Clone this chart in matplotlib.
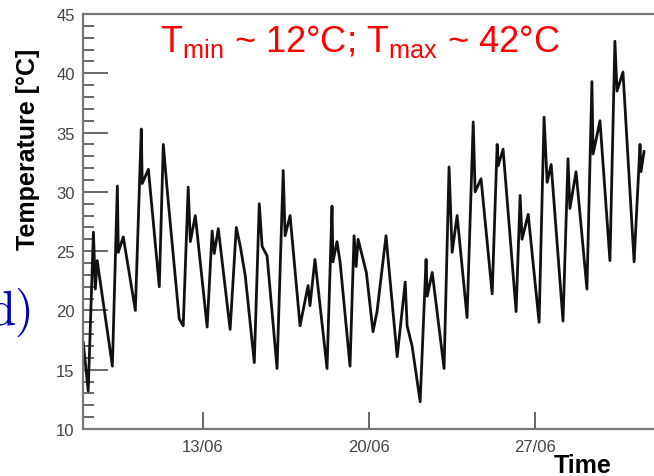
import numpy as np
import matplotlib
matplotlib.use("Agg")
from matplotlib import pyplot as plt
from matplotlib.ticker import MultipleLocator, FixedLocator

plt.rcParams['font.family'] = ['Liberation Sans', 'DejaVu Sans']
plt.rcParams['mathtext.fontset'] = 'custom'
plt.rcParams['mathtext.rm'] = 'Liberation Sans'
plt.rcParams['mathtext.it'] = 'Liberation Sans:italic'

# time in days of June (8.0 = 08/06 00:00), temperature in degC
day = [7.95, 8.16, 8.38, 8.46, 8.54, 9.18, 9.39, 9.43, 9.64, 10.15,
       10.40, 10.44, 10.70, 11.16, 11.33, 11.50, 12.00, 12.17, 12.38, 12.47,
       12.68, 13.18, 13.39, 13.48, 13.65, 14.15, 14.41, 14.58, 14.79, 15.17,
       15.38, 15.50, 15.71, 16.13, 16.39, 16.47, 16.68, 17.10, 17.44, 17.52,
       17.73, 18.24, 18.45, 18.49, 18.66, 18.79, 19.21, 19.38, 19.47, 19.55,
       19.90, 20.18, 20.35, 20.73, 20.82, 21.20, 21.54, 21.62, 21.83, 22.17,
       22.42, 22.47, 22.68, 23.18, 23.39, 23.52, 23.73, 24.15, 24.41, 24.49,
       24.74, 25.21, 25.42, 25.46, 25.67, 26.22, 26.39, 26.47, 26.73, 27.19,
       27.40, 27.53, 27.70, 28.20, 28.41, 28.49, 28.75, 29.21, 29.42, 29.47,
       29.76, 30.18, 30.39, 30.48, 30.73, 31.20, 31.45, 31.49, 31.62]
temp = [17.3, 13.2, 26.6, 21.8, 24.2, 15.3, 30.5, 24.9, 26.2, 20.0,
        35.3, 30.7, 31.9, 22.0, 34.0, 30.0, 19.3, 18.7, 30.4, 25.8,
        28.0, 18.6, 26.7, 24.8, 26.9, 18.4, 27.0, 25.4, 22.9, 15.6,
        29.0, 25.4, 24.6, 15.1, 31.8, 26.3, 28.0, 18.7, 22.1, 20.4,
        24.3, 15.1, 28.8, 24.1, 25.8, 24.1, 15.3, 26.3, 23.7, 26.0,
        23.2, 18.2, 19.9, 26.3, 24.3, 16.1, 22.4, 18.7, 17.0, 12.3,
        24.3, 21.2, 23.2, 15.1, 32.1, 24.9, 28.0, 19.4, 35.9, 30.0,
        31.1, 21.4, 34.0, 32.2, 33.6, 19.9, 29.7, 26.0, 28.1, 19.0,
        36.3, 30.8, 32.3, 19.1, 32.8, 28.6, 31.7, 21.8, 39.3, 33.2,
        36.0, 24.2, 42.7, 38.5, 40.1, 24.1, 34.0, 31.7, 33.4]

tick_days = [13, 20, 27]
tick_labels = ['13/06', '20/06', '27/06']

fig = plt.figure(figsize=(6.54, 4.77), dpi=100)
ax = fig.add_axes([83 / 654, 47 / 477, 1 - 83 / 654, 415 / 477])

ax.plot(day, temp, color='#111111', lw=2.0)

ax.set_xlim(7.94, 32.04)
ax.set_ylim(10, 45)

ax.xaxis.set_major_locator(FixedLocator(tick_days))
ax.set_xticklabels(tick_labels)
ax.yaxis.set_major_locator(MultipleLocator(5))
ax.yaxis.set_minor_locator(MultipleLocator(1))

ax.tick_params(axis='y', which='major', direction='in', length=18, width=1.4,
               color='#666666', labelsize=12, labelcolor='#444444', pad=6)
ax.tick_params(axis='y', which='minor', direction='in', length=8, width=1.4,
               color='#666666')
ax.tick_params(axis='x', which='major', direction='in', length=12, width=1.4,
               color='#666666', labelsize=12, labelcolor='#444444', pad=7)

for s in ['left', 'bottom', 'top']:
    ax.spines[s].set_color('#777777')
    ax.spines[s].set_linewidth(1.6)
ax.spines['right'].set_visible(False)

fig.text(28 / 654, 1 - 149 / 477, 'Temperature [°C]', rotation=90,
         ha='center', va='center', fontsize=18, fontweight='bold')
fig.text(612 / 654, 4 / 477, 'Time', ha='right', va='baseline',
         fontsize=18, fontweight='bold')

fig.text(360 / 654, 1 - 52 / 477,
         r'T$_{\rm min}$ ~ 12°C; T$_{\rm max}$ ~ 42°C',
         ha='center', va='baseline', fontsize=26, color='#ff0000')

fig.text(31 / 654, 1 - 325 / 477, r'$\mathrm{d)}$', math_fontfamily='cm',
         ha='right', va='baseline', fontsize=35, color='#0000b8')

fig.savefig('out.png', dpi=100)
